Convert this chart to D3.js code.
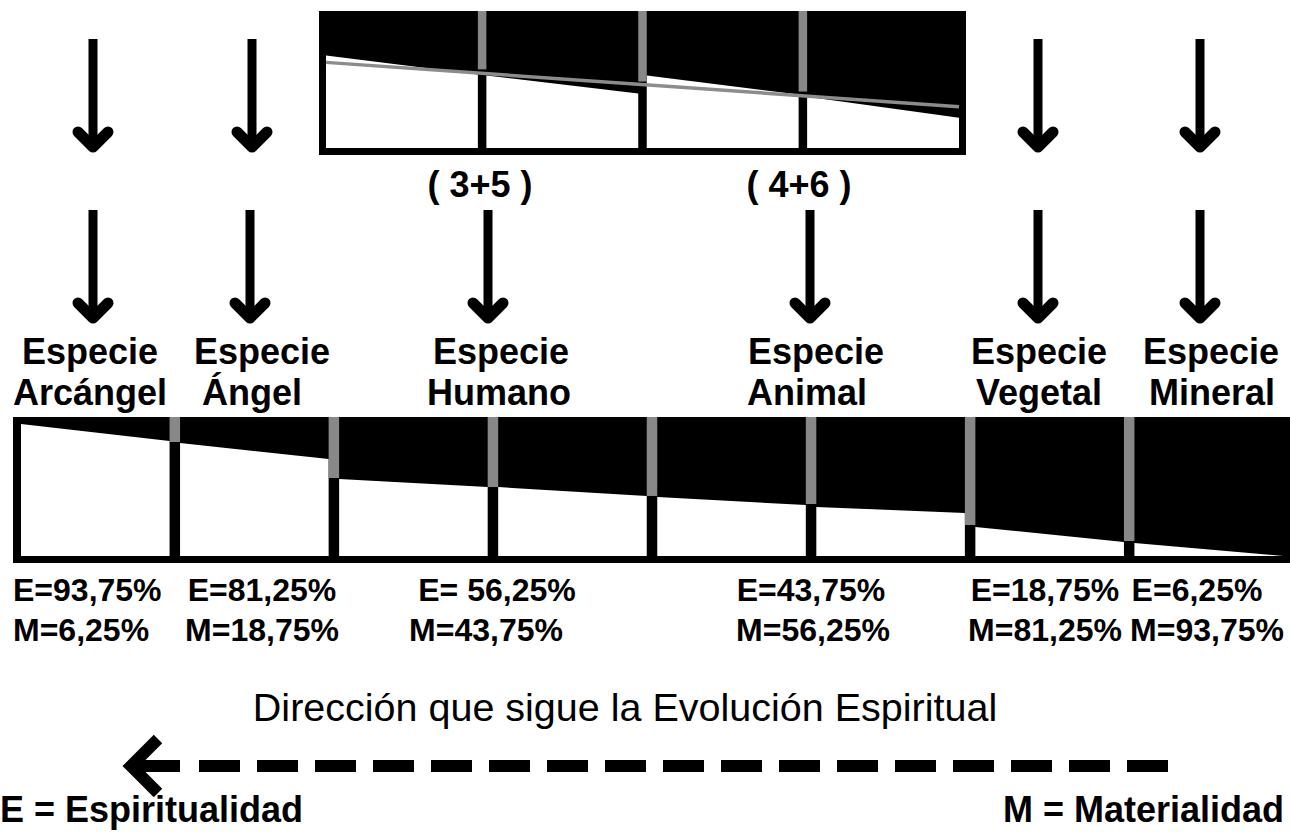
<!DOCTYPE html>
<html>
<head>
<meta charset="utf-8">
<script src="https://cdn.jsdelivr.net/npm/d3@7/dist/d3.min.js"></script>
<style>
html,body{margin:0;padding:0;background:#fff;overflow:hidden;}
svg{display:block;}
text{font-family:"Liberation Sans",Arial,sans-serif;fill:#000;}
</style>
</head>
<body>
<svg id="chart" width="1290" height="832"></svg>
<script>
// ---------- data ----------
const species = ["Arcángel", "Ángel", "Humano", "Animal", "Vegetal", "Mineral"];
const espiritualidad = [93.75, 81.25, 56.25, 43.75, 18.75, 6.25];
const materialidad = [6.25, 18.75, 43.75, 56.25, 81.25, 93.75];
// white (spirit) share at the left / right edge of each of the 8 bands (%)
const bandStartE = [95.0, 81.3, 55.4, 49.6, 42.4, 35.3, 20.9, 9.4];
const bandEndE   = [82.7, 69.8, 49.6, 43.2, 36.7, 30.9, 10.1, 0.0];
const dividerE   = [82.0, 56.1, 49.6, 43.2, 37.4, 22.3, 10.8];
// magnified detail box (4 bands)
const zoomStartE = [67.6, 52.9, 52.9, 37.5];
const zoomEndE   = [53.7, 39.7, 39.0, 22.1];
const zoomDividerE = [57.4, 48.5, 41.2];
const zoomLineE = [62.5, 30.1];
const combos = ["( 3+5 )", "( 4+6 )"];
const direction = "Dirección que sigue la Evolución Espiritual";
const legendE = "E = Espiritualidad";
const legendM = "M = Materialidad";

// ---------- layout ----------
const layout = {
  box: {x0: 13, x1: 1290, y0: 417, y1: 563, border: 7, left: 8},
  zbox: {x0: 319, x1: 966, y0: 11, y1: 155, border: 7},
  topArrowsX: [93, 252, 1038, 1200],
  midArrowsX: [93, 250, 488, 810, 1038, 1200],
  speciesLine1X: [90, 262, 501, 816, 1039, 1211],
  speciesLine2X: [90, 252, 499, 807, 1039, 1212],
  pctEX: [13, 262, 497, 811, 1045, 1197],
  pctMX: [13, 262, 486, 813, 1045, 1207],
  comboX: [480, 799]
};
const gray = "#888888";

const svg = d3.select("#chart");

// ---------- main band box ----------
const B = layout.box;
const innerL = B.x0 + B.left, innerR = B.x1 - B.border, innerB = B.y1 - B.border;
svg.append("rect").attr("x", B.x0).attr("y", B.y0)
  .attr("width", B.x1 - B.x0).attr("height", B.y1 - B.y0).attr("fill", "#000");

const xb = d3.scaleBand().domain(d3.range(8)).range([innerL, innerR]).paddingInner(0.066).paddingOuter(0);
const yb = d3.scaleLinear().domain([0, 100]).range([innerB, B.y0]);
const line = d3.line();

svg.append("g").selectAll("path").data(d3.range(8)).join("path")
  .attr("d", i => {
    const a = xb(i), b = xb(i) + xb.bandwidth();
    return line([[a, yb(bandStartE[i])], [b, yb(bandEndE[i])], [b, yb(0)], [a, yb(0)]]) + "Z";
  })
  .attr("fill", "#fff");

svg.append("g").selectAll("rect").data(dividerE).join("rect")
  .attr("x", (d, i) => xb(i) + xb.bandwidth())
  .attr("width", xb.step() - xb.bandwidth())
  .attr("y", yb(100))
  .attr("height", d => yb(d) - yb(100))
  .attr("fill", gray);

// ---------- magnified box ----------
const Z = layout.zbox;
const zL = Z.x0 + Z.border, zR = Z.x1 - Z.border, zB = Z.y1 - Z.border;
svg.append("rect").attr("x", Z.x0).attr("y", Z.y0)
  .attr("width", Z.x1 - Z.x0).attr("height", Z.y1 - Z.y0).attr("fill", "#000");
const xz = d3.scaleBand().domain(d3.range(4)).range([zL, zR]).paddingInner(0.053).paddingOuter(0);
const yz = d3.scaleLinear().domain([0, 100]).range([zB, Z.y0]);

svg.append("g").selectAll("path").data(d3.range(4)).join("path")
  .attr("d", i => {
    const a = xz(i), b = xz(i) + xz.bandwidth();
    return line([[a, yz(zoomStartE[i])], [b, yz(zoomEndE[i])], [b, yz(0)], [a, yz(0)]]) + "Z";
  })
  .attr("fill", "#fff");

svg.append("g").selectAll("rect").data(zoomDividerE).join("rect")
  .attr("x", (d, i) => xz(i) + xz.bandwidth())
  .attr("width", xz.step() - xz.bandwidth())
  .attr("y", yz(100))
  .attr("height", d => yz(d) - yz(100))
  .attr("fill", gray);

svg.append("path")
  .attr("d", line([[zL, yz(zoomLineE[0])], [zR, yz(zoomLineE[1])]]))
  .attr("stroke", "#8c8c8c").attr("stroke-width", 3.5).attr("fill", "none");

// ---------- down arrows ----------
function downArrow(x, yTop, yTip) {
  const g = svg.append("g");
  g.append("rect").attr("x", x - 4.5).attr("y", yTop).attr("width", 9).attr("height", yTip - yTop - 4).attr("fill", "#000");
  g.append("path").attr("d", line([[x - 15, yTip - 15], [x, yTip], [x + 15, yTip - 15]]))
    .attr("fill", "none").attr("stroke", "#000").attr("stroke-width", 11)
    .attr("stroke-linecap", "round").attr("stroke-linejoin", "round");
}
layout.topArrowsX.forEach(x => downArrow(x, 39, 147));
layout.midArrowsX.forEach(x => downArrow(x, 210, 318));

// ---------- texts ----------
svg.append("g").selectAll("text").data(combos).join("text")
  .attr("x", (d, i) => layout.comboX[i]).attr("y", 197)
  .attr("text-anchor", "middle").attr("font-size", 36).attr("font-weight", "bold")
  .text(d => d);

const sp = svg.append("g").attr("font-size", 36).attr("font-weight", "bold").attr("text-anchor", "middle");
sp.selectAll("text.l1").data(species).join("text").attr("class", "l1")
  .attr("x", (d, i) => layout.speciesLine1X[i]).attr("y", 364).text("Especie");
sp.selectAll("text.l2").data(species).join("text").attr("class", "l2")
  .attr("x", (d, i) => layout.speciesLine2X[i]).attr("y", 405).text(d => d);

const fmt = v => d3.format(".2f")(v).replace(".", ",") + "%";
const pc = svg.append("g").attr("font-size", 32).attr("font-weight", "bold");
pc.selectAll("text.e").data(espiritualidad).join("text").attr("class", "e")
  .attr("x", (d, i) => layout.pctEX[i]).attr("y", 601)
  .attr("text-anchor", (d, i) => i === 0 ? "start" : "middle")
  .text((d, i) => (i === 2 ? "E= " : "E=") + fmt(d));
pc.selectAll("text.m").data(materialidad).join("text").attr("class", "m")
  .attr("x", (d, i) => layout.pctMX[i]).attr("y", 641)
  .attr("text-anchor", (d, i) => i === 0 ? "start" : "middle")
  .text(d => "M=" + fmt(d));

svg.append("text").attr("x", 625).attr("y", 721).attr("text-anchor", "middle")
  .attr("font-size", 39.5).attr("fill", "#111").text(direction);

// ---------- dashed direction arrow ----------
const ay = 766;
svg.append("path").attr("d", line([[132, ay], [180, ay]]))
  .attr("stroke", "#000").attr("stroke-width", 12);
svg.append("path").attr("d", line([[199, ay], [1182, ay]]))
  .attr("stroke", "#000").attr("stroke-width", 12).attr("stroke-dasharray", "41,17");
svg.append("path").attr("d", line([[158, ay - 27], [131, ay], [158, ay + 27]]))
  .attr("fill", "none").attr("stroke", "#000").attr("stroke-width", 12).attr("stroke-linejoin", "miter");

svg.append("text").attr("x", 0).attr("y", 822).attr("font-size", 36).attr("font-weight", "bold").text(legendE);
svg.append("text").attr("x", 1284).attr("y", 822).attr("text-anchor", "end").attr("font-size", 36).attr("font-weight", "bold").text(legendM);
</script>
</body>
</html>
